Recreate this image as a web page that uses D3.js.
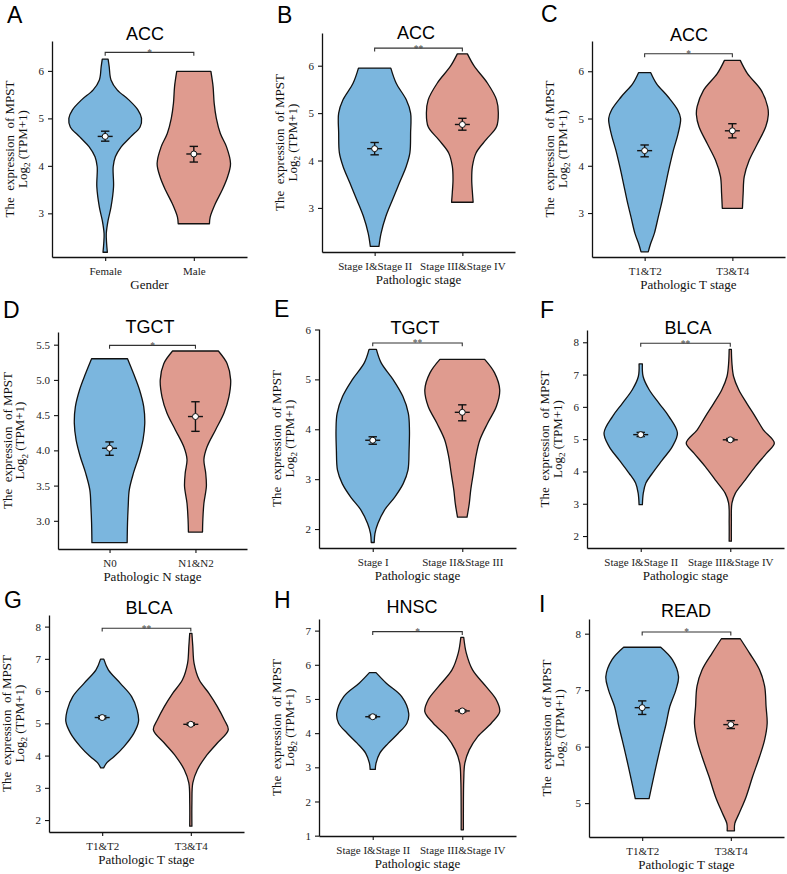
<!DOCTYPE html>
<html>
<head>
<meta charset="utf-8">
<script src="https://cdn.jsdelivr.net/npm/d3@7"></script>
<style>
  body { margin: 0; background: #fff; }
  svg text { font-family: "Liberation Serif", "Times New Roman", serif; }
</style>
</head>
<body>
<svg id="chart" width="787" height="874"></svg>
<script>
// ---- data ----
const panelLetters = ['A', 'B', 'C', 'D', 'E', 'F', 'G', 'H', 'I'];
const cancerTypes = ['ACC', 'ACC', 'ACC', 'TGCT', 'TGCT', 'BLCA', 'BLCA', 'HNSC', 'READ'];
const groupVariables = ['Gender', 'Pathologic stage', 'Pathologic T stage', 'Pathologic N stage',
  'Pathologic stage', 'Pathologic stage', 'Pathologic T stage', 'Pathologic stage', 'Pathologic T stage'];
const groupLabels = [
  ['Female', 'Male'],
  ['Stage I&Stage II', 'Stage III&Stage IV'],
  ['T1&T2', 'T3&T4'],
  ['N0', 'N1&N2'],
  ['Stage I', 'Stage II&Stage III'],
  ['Stage I&Stage II', 'Stage III&Stage IV'],
  ['T1&T2', 'T3&T4'],
  ['Stage I&Stage II', 'Stage III&Stage IV'],
  ['T1&T2', 'T3&T4']
];
const meanValues = [[4.62, 4.25], [4.25, 4.76], [4.32, 4.74], [4.03, 4.48], [3.78, 4.34],
  [5.14, 4.98], [5.18, 4.97], [4.48, 4.65], [6.69, 6.39]];
const errLower = [[4.52, 4.08], [4.12, 4.64], [4.19, 4.59], [3.93, 4.27], [3.70, 4.17],
  [5.08, 4.95], [5.14, 4.94], [4.45, 4.62], [6.57, 6.32]];
const errUpper = [[4.73, 4.41], [4.38, 4.89], [4.44, 4.89], [4.12, 4.69], [3.85, 4.49],
  [5.21, 5.02], [5.23, 5.01], [4.52, 4.68], [6.81, 6.46]];
const significance = ['*', '**', '*', '*', '**', '**', '**', '*', '*'];
const bracketValues = [6.39, 6.37, 6.37, 5.49, 5.73, 7.97, 7.95, 6.97, 8.03];
const yDomains = [[2.08, 6.63], [2.07, 6.69], [2.07, 6.64], [2.60, 5.68], [1.62, 6.01],
  [1.63, 8.38], [1.63, 8.36], [0.99, 7.34], [4.40, 8.26]];
const yTickValues = [
  [3, 4, 5, 6], [3, 4, 5, 6], [3, 4, 5, 6],
  [3.0, 3.5, 4.0, 4.5, 5.0, 5.5], [2, 3, 4, 5, 6],
  [2, 3, 4, 5, 6, 7, 8], [2, 3, 4, 5, 6, 7, 8], [1, 2, 3, 4, 5, 6, 7], [5, 6, 7, 8]
];
const yTickLabels = [
  ['3', '4', '5', '6'], ['3', '4', '5', '6'], ['3', '4', '5', '6'],
  ['3.0', '3.5', '4.0', '4.5', '5.0', '5.5'], ['2', '3', '4', '5', '6'],
  ['2', '3', '4', '5', '6', '7', '8'], ['2', '3', '4', '5', '6', '7', '8'],
  ['1', '2', '3', '4', '5', '6', '7'], ['5', '6', '7', '8']
];
// violin outlines: [expression value, relative half width]
const violinProfiles = [
  [[[6.25, 0.08], [6.09, 0.11], [5.81, 0.16], [5.6, 0.33], [5.39, 0.65], [5.18, 0.9], [5.0, 1.0], [4.82, 0.96],
    [4.61, 0.7], [4.4, 0.44], [4.19, 0.28], [3.98, 0.22], [3.56, 0.23], [3.13, 0.16], [2.85, 0.08], [2.57, 0.03],
    [2.36, 0.04], [2.18, 0.06]],
   [[5.99, 0.47], [5.67, 0.53], [5.32, 0.56], [5.0, 0.62], [4.68, 0.73], [4.4, 0.9], [4.05, 1.01], [3.77, 0.93],
    [3.49, 0.78], [3.2, 0.59], [2.92, 0.45], [2.78, 0.43]]],
  [[[5.95, 0.45], [5.63, 0.6], [5.28, 0.88], [5.0, 1.0], [4.58, 1.0], [4.16, 0.98], [3.88, 0.88], [3.53, 0.69],
    [3.18, 0.5], [2.82, 0.31], [2.47, 0.18], [2.19, 0.12]],
   [[6.25, 0.14], [5.99, 0.33], [5.63, 0.7], [5.28, 0.95], [5.0, 1.0], [4.71, 0.95], [4.44, 0.66], [4.16, 0.38],
    [3.88, 0.28], [3.6, 0.26], [3.32, 0.28], [3.12, 0.3]]],
  [[[5.97, 0.17], [5.74, 0.33], [5.46, 0.65], [5.18, 0.92], [5.0, 1.0], [4.68, 0.93], [4.33, 0.8], [3.98, 0.69],
    [3.63, 0.59], [3.27, 0.49], [2.92, 0.38], [2.57, 0.27], [2.36, 0.17], [2.18, 0.1]],
   [[6.23, 0.22], [5.95, 0.42], [5.6, 0.8], [5.25, 0.98], [5.08, 1.0], [4.83, 0.93], [4.47, 0.7], [4.12, 0.47],
    [3.77, 0.33], [3.42, 0.3], [3.1, 0.28]]],
  [[[5.3, 0.51], [5.09, 0.68], [4.86, 0.85], [4.62, 0.97], [4.38, 1.0], [4.15, 0.95], [3.91, 0.83], [3.68, 0.68],
    [3.44, 0.56], [3.21, 0.53], [2.97, 0.51], [2.69, 0.5]],
   [[5.41, 0.65], [5.23, 0.9], [5.0, 1.0], [4.76, 0.95], [4.53, 0.81], [4.29, 0.57], [4.05, 0.33], [3.87, 0.24],
    [3.68, 0.29], [3.49, 0.31], [3.25, 0.24], [3.02, 0.21], [2.84, 0.2]]],
  [[[5.6, 0.1], [5.33, 0.23], [4.99, 0.56], [4.66, 0.82], [4.32, 0.97], [3.99, 1.0], [3.58, 0.99], [3.18, 0.96],
    [2.91, 0.83], [2.64, 0.6], [2.38, 0.32], [2.11, 0.14], [1.91, 0.06], [1.73, 0.04]],
   [[5.4, 0.61], [5.13, 0.88], [4.79, 1.02], [4.46, 0.93], [4.12, 0.69], [3.79, 0.48], [3.45, 0.37], [3.11, 0.3],
    [2.78, 0.23], [2.51, 0.19], [2.24, 0.13]]],
  [[[7.33, 0.045], [6.94, 0.065], [6.53, 0.23], [6.11, 0.5], [5.7, 0.77], [5.19, 1.0], [4.77, 0.86], [4.36, 0.59],
    [3.95, 0.32], [3.64, 0.14], [3.33, 0.07], [2.97, 0.045]],
   [[7.78, 0.03], [7.35, 0.045], [6.94, 0.09], [6.53, 0.23], [6.11, 0.45], [5.7, 0.68], [5.29, 0.9], [4.88, 1.2],
    [4.57, 0.99], [4.15, 0.68], [3.74, 0.41], [3.33, 0.14], [3.02, 0.045], [2.4, 0.03], [1.84, 0.03]]],
  [[[6.99, 0.045], [6.66, 0.17], [6.24, 0.5], [5.83, 0.81], [5.42, 0.96], [5.06, 1.0], [4.69, 0.87], [4.28, 0.6],
    [3.97, 0.33], [3.78, 0.13], [3.62, 0.04]],
   [[7.79, 0.03], [7.38, 0.055], [6.86, 0.09], [6.35, 0.23], [5.93, 0.5], [5.52, 0.73], [5.11, 0.92], [4.8, 1.03],
    [4.39, 0.73], [3.97, 0.41], [3.56, 0.18], [3.15, 0.055], [2.53, 0.03], [1.81, 0.03]]],
  [[[5.77, 0.09], [5.46, 0.37], [5.07, 0.79], [4.58, 0.98], [4.29, 0.93], [3.99, 0.69], [3.7, 0.42], [3.41, 0.19],
    [3.12, 0.09], [2.94, 0.07]],
   [[6.8, 0.04], [6.34, 0.11], [5.85, 0.28], [5.36, 0.65], [4.97, 0.93], [4.63, 1.02], [4.29, 0.79], [3.9, 0.42],
    [3.51, 0.19], [3.12, 0.07], [2.63, 0.04], [1.65, 0.03], [1.17, 0.03]]],
  [[[7.76, 0.51], [7.54, 0.83], [7.24, 1.0], [7.01, 0.93], [6.71, 0.76], [6.41, 0.66], [6.12, 0.55], [5.82, 0.44],
    [5.53, 0.34], [5.29, 0.26], [5.08, 0.19]],
   [[7.91, 0.26], [7.66, 0.51], [7.36, 0.79], [7.07, 0.93], [6.71, 0.97], [6.41, 1.0], [6.12, 0.93], [5.82, 0.79],
    [5.47, 0.6], [5.11, 0.42], [4.82, 0.23], [4.64, 0.11], [4.51, 0.1]]]
];

// ---- layout ----
const frames = [
  { left: 52, top: 41, right: 247, bottom: 257, letter: [7, 23.3], title: [145, 40] },
  { left: 322, top: 33, right: 515, bottom: 252, letter: [277, 23.3], title: [416, 39.2] },
  { left: 592, top: 41, right: 785, bottom: 257, letter: [541, 22], title: [689, 40.7] },
  { left: 58, top: 332, right: 247, bottom: 549, letter: [3, 318.3], title: [150, 333.3] },
  { left: 319, top: 329, right: 516, bottom: 548, letter: [274, 316.7], title: [415, 334] },
  { left: 587, top: 330, right: 784, bottom: 548, letter: [540, 318.3], title: [688, 334.2] },
  { left: 49, top: 615, right: 244, bottom: 832, letter: [4, 608.3], title: [149, 614.3] },
  { left: 319, top: 619, right: 516, bottom: 836, letter: [274, 608.3], title: [412, 613.3] },
  { left: 589, top: 619, right: 784, bottom: 837, letter: [539, 611.7], title: [686, 616.7] }
];
const fills = ['#7bb6de', '#df9b8f'];
const ink = '#111';

const svg = d3.select('#chart');

panelLetters.forEach((letter, p) => {
  const f = frames[p];
  const g = svg.append('g');

  const x = d3.scalePoint()
    .domain(groupLabels[p])
    .range([f.left, f.right])
    .padding(0.6);
  const y = d3.scaleLinear()
    .domain(yDomains[p])
    .range([f.bottom, f.top]);
  const w = d3.scaleLinear()
    .domain([0, 1])
    .range([0, x.step() * 0.41]);

  // violins
  groupLabels[p].forEach((grp, k) => {
    const cx = x(grp);
    const area = d3.area()
      .y(d => y(d[0]))
      .x0(d => cx - w(d[1]))
      .x1(d => cx + w(d[1]))
      .curve(d3.curveCatmullRom.alpha(0.5));
    g.append('path')
      .datum(violinProfiles[p][k])
      .attr('d', area)
      .attr('fill', fills[k])
      .attr('stroke', ink)
      .attr('stroke-width', 1.3)
      .attr('stroke-linejoin', 'round');
  });

  // mean +/- error
  groupLabels[p].forEach((grp, k) => {
    const cx = x(grp);
    const eb = g.append('g').attr('stroke', ink).attr('stroke-width', 1.4);
    eb.append('line')
      .attr('x1', cx).attr('x2', cx)
      .attr('y1', y(errLower[p][k])).attr('y2', y(errUpper[p][k]));
    [errLower[p][k], errUpper[p][k]].forEach(v => {
      eb.append('line')
        .attr('x1', cx - 4.2).attr('x2', cx + 4.2)
        .attr('y1', y(v)).attr('y2', y(v));
    });
    eb.append('line')
      .attr('x1', cx - 7.5).attr('x2', cx + 7.5)
      .attr('y1', y(meanValues[p][k])).attr('y2', y(meanValues[p][k]));
    g.append('circle')
      .attr('cx', cx)
      .attr('cy', y(meanValues[p][k]))
      .attr('r', 3)
      .attr('fill', '#fff')
      .attr('stroke', ink)
      .attr('stroke-width', 1);
  });

  // significance bracket
  const bx1 = x(groupLabels[p][0]);
  const bx2 = x(groupLabels[p][1]);
  const by = y(bracketValues[p]);
  g.append('path')
    .attr('d', `M${bx1},${by + 3.4}V${by}H${bx2}V${by + 3.4}`)
    .attr('fill', 'none')
    .attr('stroke', '#333')
    .attr('stroke-width', 1.1);
  g.append('text')
    .attr('x', (bx1 + bx2) / 2)
    .attr('y', by + 3.5)
    .attr('text-anchor', 'middle')
    .attr('font-size', 9.5)
    .attr('fill', '#444')
    .text(significance[p]);

  // axes
  const yAxis = g.append('g')
    .attr('transform', `translate(${f.left},0)`)
    .call(d3.axisLeft(y)
      .tickValues(yTickValues[p])
      .tickFormat((d, i) => yTickLabels[p][i])
      .tickSize(4)
      .tickSizeOuter(0)
      .tickPadding(4));
  const xAxis = g.append('g')
    .attr('transform', `translate(0,${f.bottom})`)
    .call(d3.axisBottom(x)
      .tickSize(4)
      .tickSizeOuter(0)
      .tickPadding(5));
  [yAxis, xAxis].forEach(a => {
    a.attr('font-family', null).attr('font-size', null);
    a.select('.domain').attr('stroke', ink).attr('stroke-width', 1.3);
    a.selectAll('.tick line').attr('stroke', ink).attr('stroke-width', 1.1);
    a.selectAll('.tick text')
      .attr('font-size', 11)
      .attr('fill', '#222');
  });
  xAxis.selectAll('.tick text').attr('dy', '0.71em').attr('y', 10);

  // axis titles
  g.append('text')
    .attr('x', (f.left + f.right) / 2)
    .attr('y', f.bottom + 32)
    .attr('text-anchor', 'middle')
    .attr('font-size', 13)
    .attr('fill', '#111')
    .text(groupVariables[p]);

  let labelW = 0;
  yAxis.selectAll('.tick text').each(function () {
    labelW = Math.max(labelW, this.getComputedTextLength());
  });
  const tickLeft = f.left - 8 - labelW;
  const cy = (f.top + f.bottom) / 2;
  const line2X = tickLeft - 12;
  const line1X = line2X - 12.7;

  g.append('text')
    .attr('transform', `translate(${line1X},${cy}) rotate(-90)`)
    .attr('text-anchor', 'middle')
    .attr('font-size', 13)
    .attr('fill', '#111')
    .text('The\u00a0 expression\u00a0 of MPST');
  const t2 = g.append('text')
    .attr('transform', `translate(${line2X},${cy}) rotate(-90)`)
    .attr('text-anchor', 'middle')
    .attr('font-size', 13)
    .attr('fill', '#111');
  t2.append('tspan').text('Log');
  t2.append('tspan').attr('font-size', 9).attr('dy', 3.5).text('2');
  t2.append('tspan').attr('dy', -3.5).text('\u00a0(TPM+1)');

  // panel title and letter
  g.append('text')
    .attr('x', f.title[0])
    .attr('y', f.title[1])
    .attr('text-anchor', 'middle')
    .attr('font-size', 18)
    .style('font-family', '"Liberation Sans", Arial, sans-serif')
    .attr('fill', '#000')
    .text(cancerTypes[p]);
  g.append('text')
    .attr('x', f.letter[0])
    .attr('y', f.letter[1])
    .attr('font-size', 23)
    .style('font-family', '"Liberation Sans", Arial, sans-serif')
    .attr('fill', '#000')
    .text(letter);
});
</script>
</body>
</html>
